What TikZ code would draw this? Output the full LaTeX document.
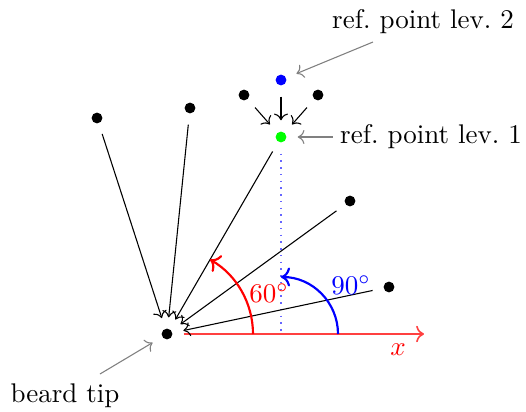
\documentclass[tikz,border=0pt]{standalone}
\usetikzlibrary{arrows.meta}
\begin{document}
\begin{tikzpicture}[x=0.3704pt,y=-0.3704pt,
  pt/.style={circle,minimum size=12pt,inner sep=0pt},
  conn/.style={->,line width=0.4pt},
  note/.style={gray,->,line width=0.4pt},
  lbl/.style={inner sep=0pt}]
\useasboundingbox (0,0) rectangle (526,412);
% points
\node[pt] (tip) at (167,334) {};
\node[pt] (green) at (281,137) {};
\node[pt] (blue) at (281,80) {};
\node[pt] (l2a) at (244,95) {};
\node[pt] (l2b) at (318,95) {};
\node[pt] (p1) at (97,118) {};
\node[pt] (p2) at (190,108) {};
\node[pt] (p3) at (350,201) {};
\node[pt] (p4) at (389,287) {};
\foreach \n in {tip,l2a,l2b,p1,p2,p3,p4} \fill (\n.center) circle (2pt);
\fill[green] (green.center) circle (2pt);
\fill[blue] (blue.center) circle (2pt);
% coordinates
\coordinate (xend) at (424,334);
\coordinate (vbot) at (281,334);
\coordinate (n2) at (373,42);
\coordinate (n1) at (333,137);
\coordinate (nb) at (100,374);
% dotted vertical
\draw[blue!60,dotted,line width=0.5pt] (green) -- (vbot);
% x axis
\draw[red!75,->,line width=0.6pt] (tip) -- (xend);
\node[red,lbl] at (398,350) {$x$};
% connectors
\draw[conn] (p1) -- (tip);
\draw[conn] (p2) -- (tip);
\draw[conn] (green) -- (tip);
\draw[conn] (p3) -- (tip);
\draw[conn] (p4) -- (tip);
\draw[conn] (blue) -- (green);
\draw[conn] (l2a) -- (green);
\draw[conn] (l2b) -- (green);
% arcs
\draw[red,thick,->] (253,334) arc[start angle=0,end angle=-60,radius=86];
\draw[blue,thick,->] (338,334) arc[start angle=0,end angle=-90,radius=57];
\node[red,lbl] at (269,293) {$60^\circ$};
\node[blue,lbl] at (351,285) {$90^\circ$};
% annotations
\node[lbl] (t2) at (423,22) {ref.\ point lev.\ 2};
\node[lbl] (t1) at (431,137) {ref.\ point lev.\ 1};
\node[lbl] (tb) at (65,396) {beard tip};
\draw[note] (n2) -- (blue);
\draw[note] (n1) -- (green);
\draw[note] (nb) -- (tip);
\end{tikzpicture}
\end{document}
